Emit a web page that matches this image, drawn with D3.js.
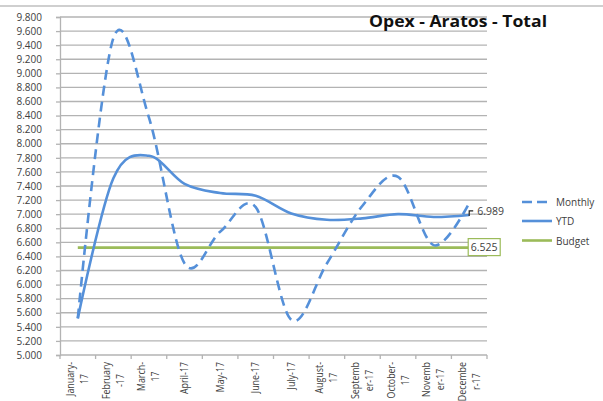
<!DOCTYPE html>
<html><head><meta charset="utf-8">
<script src="https://cdn.jsdelivr.net/npm/d3@7"></script>
<style>body{margin:0;background:#fff}svg{display:block}</style>
</head><body>
<svg id="c" width="603" height="401"></svg>
<script>
const months = ["January-17","February-17","March-17","April-17","May-17","June-17","July-17","August-17","September-17","October-17","November-17","December-17"];
const monthLabels = [["January-","17"],["February","-17"],["March-","17"],["April-17"],["May-17"],["June-17"],["July-17"],["August-","17"],["Septemb","er-17"],["October-","17"],["Novemb","er-17"],["Decembe","r-17"]];
const monthly = [5.52, 9.50, 8.37, 6.30, 6.75, 7.10, 5.50, 6.30, 7.12, 7.53, 6.56, 7.16];
const ytd = [5.52, 7.51, 7.83, 7.43, 7.30, 7.26, 7.01, 6.92, 6.94, 7.00, 6.96, 6.989];
const budget = [6.525, 6.525, 6.525, 6.525, 6.525, 6.525, 6.525, 6.525, 6.525, 6.525, 6.525, 6.525];
const yTicks = d3.range(5, 9.8001, 0.2).map(v => +v.toFixed(1));
const title = "Opex - Aratos - Total";
const seriesNames = ["Monthly", "YTD", "Budget"];
const lastLabel = "6.989";
const budgetLabel = "6.525";

const svg = d3.select("#c");
const blue = "#5590D9", green = "#9BBB59", grid = "#B3B3B3", txt = "#404040";
const font = "'Open Sans', sans-serif";

const x = d3.scaleBand().domain(months).range([60, 487]);
const y = d3.scaleLinear().domain([5, 9.8]).range([355, 17]);
const cx = m => x(m) + x.bandwidth() / 2;

// top border line
svg.append("line").attr("x1", 0).attr("x2", 603).attr("y1", 6).attr("y2", 6)
  .attr("stroke", "#BFBFBF").attr("stroke-width", 1.5);

// gridlines
svg.append("g").selectAll("line").data(yTicks.filter(v => v > 5)).join("line")
  .attr("x1", 60).attr("x2", 487).attr("y1", d => y(d)).attr("y2", d => y(d))
  .attr("stroke", grid).attr("stroke-width", 1.3);

// y axis
const yAxis = d3.axisLeft(y).tickValues(yTicks).tickSize(4).tickPadding(14)
  .tickFormat(d => d3.format(".3f")(d));
const gy = svg.append("g").attr("transform", "translate(60,0)").call(yAxis);
gy.select(".domain").attr("stroke", grid).attr("stroke-width", 1.3);
gy.selectAll(".tick line").attr("stroke", grid).attr("stroke-width", 1.3);
gy.selectAll(".tick text").attr("fill", txt).attr("font-family", font).attr("font-size", 10);

// x axis
const gx = svg.append("g").attr("transform", "translate(0,355)");
gx.append("line").attr("x1", 60).attr("x2", 487).attr("stroke", grid).attr("stroke-width", 1.3);
gx.selectAll("line.t").data(d3.range(13)).join("line").attr("class", "t")
  .attr("x1", i => 60 + i * x.bandwidth()).attr("x2", i => 60 + i * x.bandwidth())
  .attr("y1", 0).attr("y2", 4).attr("stroke", grid).attr("stroke-width", 1.3);

// x labels rotated (compressed horizontally to match the narrow original font)
let factor = 1;
months.forEach((m, i) => {
  const lines = monthLabels[i];
  const g = svg.append("g");
  const texts = lines.map(l => g.append("text").text(l)
    .attr("font-family", font).attr("font-size", 10).attr("fill", txt));
  const widths = texts.map(t => t.node().getComputedTextLength());
  if (i === 0) factor = 34 / widths[0];
  const cw = widths.map(w => w * factor);
  const maxW = Math.max(...cw);
  const centerY = 362 + maxW / 2;
  const n = lines.length;
  texts.forEach((t, j) => {
    const xx = cx(m) + (j - (n - 1) / 2) * 14 + 3.5;
    t.attr("text-anchor", "middle")
      .attr("textLength", cw[j]).attr("lengthAdjust", "spacingAndGlyphs")
      .attr("transform", `translate(${xx},${centerY}) rotate(-90)`);
  });
});

// curves
const line = d3.line().x((d, i) => cx(months[i])).y(d => y(d)).curve(d3.curveCardinal.tension(0));
svg.append("path").datum(budget).attr("d", d3.line().x((d, i) => cx(months[i])).y(d => y(d)))
  .attr("fill", "none").attr("stroke", green).attr("stroke-width", 2.6);
svg.append("path").datum(ytd).attr("d", line)
  .attr("fill", "none").attr("stroke", blue).attr("stroke-width", 2.6);
svg.append("path").datum(monthly).attr("d", line)
  .attr("fill", "none").attr("stroke", blue).attr("stroke-width", 2.6)
  .attr("stroke-dasharray", "10,6");

// data labels
const lx = cx(months[11]);
svg.append("path").attr("d", `M${lx},${y(ytd[11]) + 1} V${y(ytd[11]) - 4} H${lx + 4}`)
  .attr("fill", "none").attr("stroke", "#222").attr("stroke-width", 1.2);
svg.append("text").text(lastLabel).attr("x", lx + 8).attr("y", y(ytd[11]) - 4)
  .attr("dominant-baseline", "central").attr("font-family", font).attr("font-size", 10.5).attr("fill", txt);
svg.append("rect").attr("x", lx - 1).attr("y", y(budget[11]) - 9).attr("width", 32).attr("height", 17)
  .attr("fill", "#fff").attr("stroke", green).attr("stroke-width", 1.2);
svg.append("text").text(budgetLabel).attr("x", lx + 15).attr("y", y(budget[11]) - 0.5)
  .attr("text-anchor", "middle").attr("dominant-baseline", "central")
  .attr("font-family", font).attr("font-size", 10.5).attr("fill", txt);

// legend
const legY = [202, 221, 240.5];
seriesNames.forEach((s, i) => {
  svg.append("line").attr("x1", 522).attr("x2", 552).attr("y1", legY[i]).attr("y2", legY[i])
    .attr("stroke", i === 2 ? green : blue).attr("stroke-width", 2.6)
    .attr("stroke-dasharray", i === 0 ? "10,5" : null);
  svg.append("text").text(s).attr("x", 556).attr("y", legY[i]).attr("dominant-baseline", "central")
    .attr("font-family", font).attr("font-size", 10).attr("fill", txt);
});

// title
svg.append("text").text(title).attr("x", 369).attr("y", 27)
  .attr("textLength", 178).attr("lengthAdjust", "spacingAndGlyphs")
  .attr("font-family", font).attr("font-weight", "bold").attr("font-size", 16.5).attr("fill", "#111");
</script>
</body></html>
